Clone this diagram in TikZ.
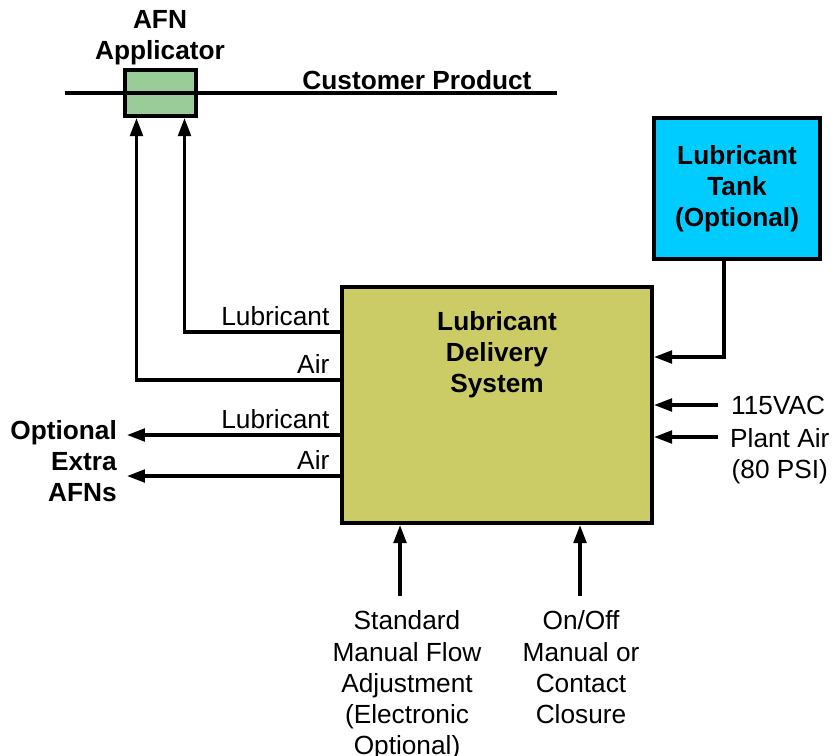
\documentclass[tikz,border=0pt]{standalone}
\usepackage{fontspec}
\setmainfont{Liberation Sans}
\usepackage{tikz}
\usetikzlibrary{shapes,arrows.meta,positioning,calc}
\definecolor{afngreen}{HTML}{99CC99}
\definecolor{ldsolive}{HTML}{CCCC66}
\definecolor{tankblue}{HTML}{00CCFF}
\newcommand{\dfont}{\fontsize{24.9}{29.6}\selectfont}
\tikzset{>={Triangle[length=0.6cm,width=0.42cm]}}
\tikzset{
  unitbox/.style={draw,line width=3.8pt,inner sep=0pt,align=center,font=\dfont\bfseries},
  flow/.style={line width=3.2pt},
  txt/.style={inner sep=0pt,align=center,font=\dfont},
  boldtxt/.style={txt,font=\dfont\bfseries},
  portlbl/.style={anchor=south east,inner xsep=0.3cm,inner ysep=0.15cm,font=\dfont},
  inputtxt/.style={txt,anchor=north,inner ysep=0.487cm}
}
\begin{document}
\begin{tikzpicture}
  \useasboundingbox (0,0) rectangle (27.8,-25.167);
  \node [unitbox,fill=ldsolive,minimum width=10.333cm,minimum height=7.867cm] (lds) at (16.567,-13.5) {};
  \node [boldtxt] (ldslabel) at (16.567,-11.833) {Lubricant\\Delivery\\System};
  \node [unitbox,fill=tankblue,minimum width=5.533cm,minimum height=4.7cm] (tank) at (24.567,-6.283) {Lubricant\\Tank\\(Optional)};
  \node [unitbox,fill=afngreen,minimum width=2.367cm,minimum height=1.533cm] (applicator) at (5.35,-3.1) {};
  \node [boldtxt] (applabel) at (5.333,-1.267) {AFN\\Applicator};
  \coordinate (prodL) at (2.167,-3.1);
  \coordinate (prodR) at (18.567,-3.1);
  \draw [flow] (prodL) -- (prodR);
  \node [boldtxt] (product) at (13.9,-2.667) {Customer Product};

  \draw [flow,->] (lds.west |- 0,-11.067) node [portlbl] {Lubricant} -| ([xshift=0.8cm]applicator.south);
  \draw [flow,->] (lds.west |- 0,-12.667) node [portlbl] {Air} -| ([xshift=-0.8cm]applicator.south);
  \node [boldtxt,anchor=east,align=right,inner xsep=0.333cm] (extra) at (4.233,-15.367) {Optional\\Extra\\AFNs};
  \draw [flow,->] (lds.west |- 0,-14.5) node [portlbl] {Lubricant} -- (extra.east |- 0,-14.5);
  \draw [flow,->] (lds.west |- 0,-15.867) node [portlbl] {Air} -- (extra.east |- 0,-15.867);

  \draw [flow,->] ([xshift=-0.433cm]tank.south) |- (lds.east |- 0,-11.9);
  \node [txt,anchor=west,inner xsep=0.433cm] (vac) at (23.933,-13.5) {115VAC};
  \draw [flow,->] (vac.west) -- (lds.east |- vac.west);
  \node [txt,anchor=north west,inner xsep=0.4cm,font=\fontsize{24.9}{28.6}\selectfont] (plantair) at (23.933,-14.287) {Plant Air\\(80 PSI)};
  \draw [flow,->] (plantair.west |- 0,-14.567) -- (lds.east |- 0,-14.567);

  \node [inputtxt] (manflow) at (13.567,-19.867) {Standard\\Manual Flow\\Adjustment\\(Electronic\\Optional)};
  \node [inputtxt] (onoff) at (19.367,-19.867) {On/Off\\Manual or\\Contact\\Closure};
  \coordinate (mfin) at ([xshift=-0.233cm]manflow.north);
  \draw [flow,->] (mfin) -- (mfin |- lds.south);
  \draw [flow,->] ([xshift=-0.033cm]onoff.north) -- ([xshift=-0.033cm]onoff.north |- lds.south);
\end{tikzpicture}
\end{document}
